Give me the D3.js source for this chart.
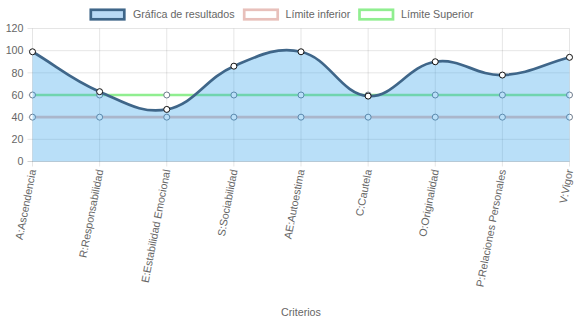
<!DOCTYPE html>
<html>
<head>
<meta charset="utf-8">
<script src="https://cdn.jsdelivr.net/npm/d3@7"></script>
<style>
  html, body { margin: 0; padding: 0; background: #fff; }
  svg { display: block; font-family: "Liberation Sans", Arial, Helvetica, sans-serif; }
</style>
</head>
<body>
<svg id="chart" width="574" height="323"></svg>
<script>
// Criterios evaluados y puntajes
const categorias = [
  "A:Ascendencia", "R:Responsabilidad", "E:Estabilidad Emocional",
  "S:Sociabilidad", "AE:Autoestima", "C:Cautela", "O:Originalidad",
  "P:Relaciones Personales", "V:Vigor"
];
const resultados      = [99, 63, 47, 86, 99, 59, 90, 78, 94];
const limiteInferior  = [40, 40, 40, 40, 40, 40, 40, 40, 40];
const limiteSuperior  = [60, 60, 60, 60, 60, 60, 60, 60, 60];
const yTicks          = [0, 20, 40, 60, 80, 100, 120];
const leyenda         = ["Gráfica de resultados", "Límite inferior", "Límite Superior"];
const tituloEjeX      = "Criterios";

const svg = d3.select("#chart");
const area = { left: 32.5, right: 569.5, top: 28.5, bottom: 161.5 };
const fontSize = 10.7;
const textColor = "#666";

const x = d3.scalePoint().domain(categorias).range([area.left, area.right]);
const y = d3.scaleLinear().domain([0, 120]).range([area.bottom, area.top]);

// Grid
const grid = svg.append("g");
grid.selectAll("line.v").data(categorias).join("line")
  .attr("x1", d => x(d)).attr("x2", d => x(d))
  .attr("y1", area.top).attr("y2", area.bottom + 5)
  .attr("stroke", "rgba(0,0,0,0.1)").attr("stroke-width", 1);
grid.selectAll("line.h").data(yTicks).join("line")
  .attr("x1", area.left - 5).attr("x2", area.right)
  .attr("y1", d => y(d)).attr("y2", d => y(d))
  .attr("stroke", d => d === 0 ? "rgba(0,0,0,0.18)" : "rgba(0,0,0,0.1)")
  .attr("stroke-width", 1);

// Y tick labels
svg.append("g").selectAll("text").data(yTicks).join("text")
  .attr("x", area.left - 9).attr("y", d => y(d)).attr("dy", "0.35em")
  .attr("text-anchor", "end").attr("font-size", fontSize).attr("fill", textColor)
  .text(d => d);

// X tick labels (rotated)
svg.append("g").selectAll("text").data(categorias).join("text")
  .attr("transform", d => `translate(${x(d)},${area.bottom + 8}) rotate(-79)`)
  .attr("dy", "0.35em")
  .attr("text-anchor", "end").attr("font-size", fontSize).attr("fill", textColor)
  .text(d => d);

// X axis title
svg.append("text")
  .attr("x", (area.left + area.right) / 2).attr("y", 316)
  .attr("text-anchor", "middle").attr("font-size", fontSize).attr("fill", textColor)
  .text(tituloEjeX);

// Spline through points (tension 0.4, control points kept inside the plot area)
function splinePath(values) {
  const pts = values.map((v, i) => ({ x: x(categorias[i]), y: y(v) }));
  const cps = pts.map((cur, i) => {
    const prev = pts[i - 1] || cur;
    const next = pts[i + 1] || cur;
    const d01 = Math.hypot(cur.x - prev.x, cur.y - prev.y);
    const d12 = Math.hypot(next.x - cur.x, next.y - cur.y);
    let s01 = d01 / (d01 + d12), s12 = d12 / (d01 + d12);
    if (isNaN(s01)) s01 = 0;
    if (isNaN(s12)) s12 = 0;
    const fa = 0.4 * s01, fb = 0.4 * s12;
    const cap = p => ({
      x: Math.max(area.left, Math.min(area.right, p.x)),
      y: Math.max(area.top, Math.min(area.bottom, p.y))
    });
    return {
      prev: cap({ x: cur.x - fa * (next.x - prev.x), y: cur.y - fa * (next.y - prev.y) }),
      next: cap({ x: cur.x + fb * (next.x - prev.x), y: cur.y + fb * (next.y - prev.y) })
    };
  });
  const p = d3.path();
  p.moveTo(pts[0].x, pts[0].y);
  for (let i = 1; i < pts.length; i++) {
    p.bezierCurveTo(cps[i - 1].next.x, cps[i - 1].next.y, cps[i].prev.x, cps[i].prev.y, pts[i].x, pts[i].y);
  }
  return { d: p.toString(), pts };
}

const colores = {
  resultadoLinea: "#3f6689",
  resultadoRelleno: "rgba(54,162,235,0.35)",
  inferior: "#e8c0bb",
  superior: "#90ee90"
};

// Limit lines with their points (drawn beneath the results area)
[[limiteInferior, colores.inferior], [limiteSuperior, colores.superior]].forEach(([vals, col]) => {
  const sp = splinePath(vals);
  svg.append("path").attr("d", sp.d).attr("fill", "none")
    .attr("stroke", col).attr("stroke-width", 2.7);
  svg.append("g").selectAll("circle").data(sp.pts).join("circle")
    .attr("cx", d => d.x).attr("cy", d => d.y).attr("r", 3)
    .attr("fill", "#fff").attr("stroke", "#6f7d8e").attr("stroke-width", 1);
});

// Results area and line
const res = splinePath(resultados);
svg.append("path")
  .attr("d", res.d + `L${area.right},${y(0)}L${area.left},${y(0)}Z`)
  .attr("fill", colores.resultadoRelleno);
svg.append("path").attr("d", res.d).attr("fill", "none")
  .attr("stroke", colores.resultadoLinea).attr("stroke-width", 2.7);
svg.append("g").selectAll("circle").data(res.pts).join("circle")
  .attr("cx", d => d.x).attr("cy", d => d.y).attr("r", 3)
  .attr("fill", "#fff").attr("stroke", "#111").attr("stroke-width", 1);

// Legend
const legendItems = [
  { label: leyenda[0], fill: "#b9daf6", stroke: colores.resultadoLinea, bx: 90.8, tx: 133 },
  { label: leyenda[1], fill: "#fff", stroke: colores.inferior, bx: 244.2, tx: 285.5 },
  { label: leyenda[2], fill: "#fff", stroke: colores.superior, bx: 359.5, tx: 401 }
];
const lg = svg.append("g");
legendItems.forEach(it => {
  lg.append("rect").attr("x", it.bx).attr("y", 9.8).attr("width", 33.5).attr("height", 9.5)
    .attr("fill", it.fill).attr("stroke", it.stroke).attr("stroke-width", 2.7);
  lg.append("text").attr("x", it.tx).attr("y", 14.5).attr("dy", "0.35em")
    .attr("font-size", fontSize).attr("fill", textColor).text(it.label);
});
</script>
</body>
</html>
